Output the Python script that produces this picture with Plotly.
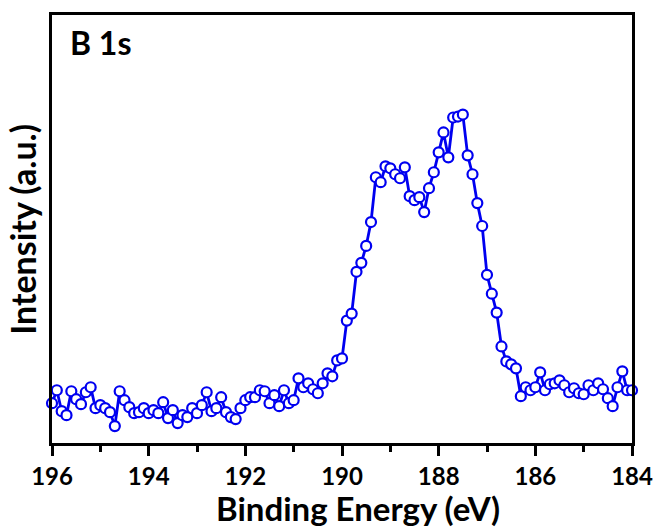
import plotly.graph_objects as go

energy_ev = [
    196.0, 195.9, 195.8, 195.7, 195.6, 195.5, 195.4, 195.3, 195.2, 195.1,
    195.0, 194.9, 194.8, 194.7, 194.6, 194.5, 194.4, 194.3, 194.2, 194.1,
    194.0, 193.9, 193.8, 193.7, 193.6, 193.5, 193.4, 193.3, 193.2, 193.1,
    193.0, 192.9, 192.8, 192.7, 192.6, 192.5, 192.4, 192.3, 192.2, 192.1,
    192.0, 191.9, 191.8, 191.7, 191.6, 191.5, 191.4, 191.3, 191.2, 191.1,
    191.0, 190.9, 190.8, 190.7, 190.6, 190.5, 190.4, 190.3, 190.2, 190.1,
    190.0, 189.9, 189.8, 189.7, 189.6, 189.5, 189.4, 189.3, 189.2, 189.1,
    189.0, 188.9, 188.8, 188.7, 188.6, 188.5, 188.4, 188.3, 188.2, 188.1,
    188.0, 187.9, 187.8, 187.7, 187.6, 187.5, 187.4, 187.3, 187.2, 187.1,
    187.0, 186.9, 186.8, 186.7, 186.6, 186.5, 186.4, 186.3, 186.2, 186.1,
    186.0, 185.9, 185.8, 185.7, 185.6, 185.5, 185.4, 185.3, 185.2, 185.1,
    185.0, 184.9, 184.8, 184.7, 184.6, 184.5, 184.4, 184.3, 184.2, 184.1,
    184.0,
]

intensity = [
    40, 53, 32, 28, 52, 44, 39, 51, 56, 35,
    38, 35, 31, 17, 52, 43, 36, 30, 31, 35,
    30, 33, 30, 41, 25, 33, 20, 28, 26, 35,
    30, 38, 51, 32, 35, 46, 31, 26, 24, 35,
    43, 46, 46, 53, 52, 40, 48, 37, 53, 40,
    43, 65, 56, 60, 54, 50, 60, 70, 67, 83,
    85, 123, 130, 172, 181, 198, 222, 267, 262, 278,
    276, 270, 266, 277, 248, 244, 247, 232, 256, 272,
    292, 312, 287, 327, 328, 330, 289, 270, 241, 218,
    169, 150, 131, 97, 82, 79, 75, 47, 56, 53,
    56, 71, 53, 59, 60, 63, 58, 51, 55, 50,
    49, 58, 53, 60, 54, 45, 37, 56, 72, 53,
    53,
]

x_ticks = [196, 194, 192, 190, 188, 186, 184]
x_label = "Binding Energy (eV)"
y_label = "Intensity (a.u.)"
panel_label = "B 1s"

FONT = "Lato"
BLUE = "#0000f0"

fig = go.Figure()
fig.add_trace(go.Scatter(
    x=energy_ev, y=intensity, mode="lines+markers",
    line=dict(color=BLUE, width=2.8),
    marker=dict(symbol="circle", size=10, color="white",
                line=dict(color=BLUE, width=2.2)),
    cliponaxis=False, showlegend=False,
))

fig.update_layout(
    width=665, height=530,
    margin=dict(l=52, r=23, t=13, b=87),
    paper_bgcolor="white", plot_bgcolor="white",
    font=dict(family=FONT, color="black"),
    xaxis=dict(
        range=[196, 184], tickmode="array", tickvals=x_ticks,
        ticktext=[str(t) for t in x_ticks],
        showline=True, linecolor="black", linewidth=3, mirror=True,
        ticks="outside", ticklen=10, tickwidth=3, tickcolor="black",
        minor=dict(dtick=1, ticks="outside", ticklen=6, tickwidth=3, tickcolor="black"),
        showgrid=False, zeroline=False,
        tickfont=dict(family=FONT, size=24, color="black", weight="bold"),
    ),
    yaxis=dict(
        range=[0, 430], showticklabels=False, ticks="",
        showline=True, linecolor="black", linewidth=3, mirror=True,
        showgrid=False, zeroline=False,
    ),
    annotations=[
        dict(text=x_label, xref="paper", yref="paper", x=0.527, y=-0.151,
             xanchor="center", yanchor="middle", showarrow=False,
             font=dict(family=FONT, size=33, color="black", weight="bold")),
        dict(text=y_label, xref="paper", yref="paper", x=-0.052, y=0.5,
             xanchor="center", yanchor="middle", textangle=-90, showarrow=False,
             font=dict(family=FONT, size=34, color="black", weight="bold")),
        dict(text=panel_label, xref="paper", yref="paper", x=0.027, y=0.935,
             xanchor="left", yanchor="middle", showarrow=False,
             font=dict(family=FONT, size=32, color="black", weight="bold")),
    ],
)

fig.write_html("out.html")
